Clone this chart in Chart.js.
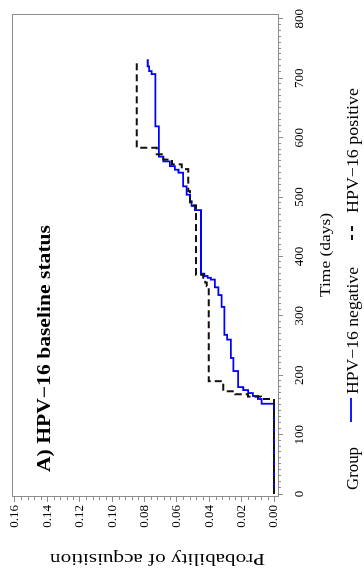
<!DOCTYPE html>
<html>
<head>
<meta charset="utf-8">
<script src="https://cdn.jsdelivr.net/npm/chart.js@4"></script>
<style>
  html, body { margin: 0; padding: 0; background: #fff; overflow: hidden; }
  body { width: 364px; height: 571px; position: relative; }
  #wrap {
    position: absolute; left: 0; top: 0; width: 571px; height: 364px;
    transform-origin: 0 0; transform: translate(0, 571px) rotate(-90deg);
  }
</style>
</head>
<body>
<div id="wrap"><canvas id="chart" width="571" height="364"></canvas></div>
<script>
    const timeTicks = [0, 100, 200, 300, 400, 500, 600, 700, 800];
    const probTicks = [0, 0.02, 0.04, 0.06, 0.08, 0.10, 0.12, 0.14, 0.16];
    const groupLabels = ['HPV\u221216 negative', 'HPV\u221216 positive'];

    const negTime = [0, 152, 160, 165, 170, 175, 180, 207, 229, 260, 268, 315, 335, 348, 361, 364, 367, 371,
      478, 485, 493, 504, 518, 541, 546, 552, 560, 568, 619, 707, 712, 720, 732];
    const negProb = [0, .0076, .0099, .0130, .0160, .0190, .0222, .0251, .0266, .0289, .0306, .0323, .0344, .0365,
      .0390, .0410, .0430, .0451, .0488, .0509, .0519, .0540, .0562, .0590, .0612, .0643, .0684, .0711, .0733,
      .0756, .0772, .0780, .0780];

    const posTime = [0, 160, 164, 168, 173, 190, 350, 356, 362, 369, 486, 491, 510, 547, 555, 563, 572, 583, 732];
    const posProb = [0, .0080, .0160, .0240, .0313, .0403, .0415, .0425, .0437, .0482, .0509, .0519, .0529,
      .0570, .0630, .0684, .0725, .0848, .0848];

    const SERIF = '"Liberation Serif", "Times New Roman", Times, serif';
    const GREY = '#8c8c8c';

    function fitText(ctx, text, x, y, w) {
      const m = ctx.measureText(text).width;
      ctx.save();
      ctx.translate(x, y);
      ctx.scale(w / m, 1);
      ctx.fillText(text, 0, 0);
      ctx.restore();
    }

    const decor = {
      id: 'decor',
      afterDraw(chart) {
        const { ctx, chartArea: a, scales: { x, y } } = chart;
        ctx.save();
        ctx.strokeStyle = GREY;
        ctx.lineWidth = 1;
        ctx.strokeRect(Math.round(a.left) + 0.5, Math.round(a.top) + 0.5, Math.round(a.right - a.left), Math.round(a.bottom - a.top));

        // minor ticks
        ctx.beginPath();
        for (let t = 0; t <= 800; t += 10) {
          if (t % 100 === 0) continue;
          const px = Math.round(x.getPixelForValue(t)) + 0.5;
          ctx.moveTo(px, a.bottom);
          ctx.lineTo(px, a.bottom + 3);
        }
        for (let i = 0; i <= 40; i++) {
          if (i % 5 === 0) continue;
          const py = Math.round(y.getPixelForValue(i * 0.004)) + 0.5;
          ctx.moveTo(a.left, py);
          ctx.lineTo(a.left - 3, py);
        }
        ctx.stroke();

        ctx.fillStyle = '#000';
        ctx.textBaseline = 'alphabetic';
        ctx.textAlign = 'left';

        ctx.font = 'bold 18px ' + SERIF;
        fitText(ctx, 'A) HPV\u221216 baseline status', 99, 50, 247);

        ctx.font = '15px ' + SERIF;
        ctx.textBaseline = 'middle';
        const tw = 84;
        fitText(ctx, 'Time (days)', 316 - tw / 2, 326, tw);

        ctx.save();
        ctx.translate(13, 157.5);
        ctx.rotate(-Math.PI / 2);
        ctx.font = '16px ' + SERIF;
        fitText(ctx, 'Probability of acquisition', -107.5, 0, 215);
        ctx.restore();

        // legend
        ctx.textBaseline = 'alphabetic';
        ctx.font = '16px ' + SERIF;
        fitText(ctx, 'Group', 81, 357.5, 43);
        ctx.strokeStyle = '#0000ff';
        ctx.lineWidth = 1.8;
        ctx.setLineDash([]);
        ctx.beginPath();
        ctx.moveTo(149, 351);
        ctx.lineTo(173, 351);
        ctx.stroke();
        fitText(ctx, groupLabels[0], 177, 357.5, 127);
        ctx.strokeStyle = '#111';
        ctx.lineWidth = 2;
        ctx.setLineDash([5, 4]);
        ctx.beginPath();
        ctx.moveTo(331, 352);
        ctx.lineTo(345, 352);
        ctx.stroke();
        ctx.setLineDash([]);
        fitText(ctx, groupLabels[1], 358, 357.5, 125);
        ctx.restore();
      }
    };

    const negPoints = negTime.map((t, i) => ({ x: t, y: negProb[i] }));
    const posPoints = posTime.map((t, i) => ({ x: t, y: posProb[i] }));

    new Chart(document.getElementById('chart'), {
      type: 'line',
      data: {
        datasets: [
          {
            label: groupLabels[0],
            data: negPoints,
            stepped: true,
            borderColor: '#0000ff',
            borderWidth: 1.8,
            pointRadius: 0,
            fill: false,
            order: 1
          },
          {
            label: groupLabels[1],
            data: posPoints,
            stepped: true,
            borderColor: '#111',
            borderWidth: 2,
            borderDash: [7, 4],
            pointRadius: 0,
            fill: false,
            order: 0
          }
        ]
      },
      options: {
        responsive: false,
        animation: false,
        layout: { padding: { top: 12, right: 11, left: 0, bottom: 0 } },
        plugins: { legend: { display: false }, tooltip: { enabled: false } },
        scales: {
          x: {
            type: 'linear',
            min: -5,
            max: 806.7,
            afterBuildTicks: s => { s.ticks = timeTicks.map(v => ({ value: v })); },
            afterFit: s => { s.height = 86; },
            grid: { drawOnChartArea: false, drawTicks: true, tickLength: 5, color: GREY },
            border: { display: true, color: GREY },
            ticks: {
              font: { family: SERIF, size: 13 },
              color: '#000',
              padding: 9,
              maxRotation: 0,
              autoSkip: false,
              callback: v => String(v)
            }
          },
          y: {
            type: 'linear',
            min: -0.00247,
            max: 0.16185,
            afterBuildTicks: s => { s.ticks = probTicks.map(v => ({ value: v })); },
            afterFit: s => { s.width = 74; },
            grid: { drawOnChartArea: false, drawTicks: true, tickLength: 5, color: GREY },
            border: { display: true, color: GREY },
            ticks: {
              font: { family: SERIF, size: 13 },
              color: '#000',
              padding: 3,
              autoSkip: false,
              callback: v => v.toFixed(2)
            }
          }
        }
      },
      plugins: [decor]
    });
</script>
</body>
</html>
